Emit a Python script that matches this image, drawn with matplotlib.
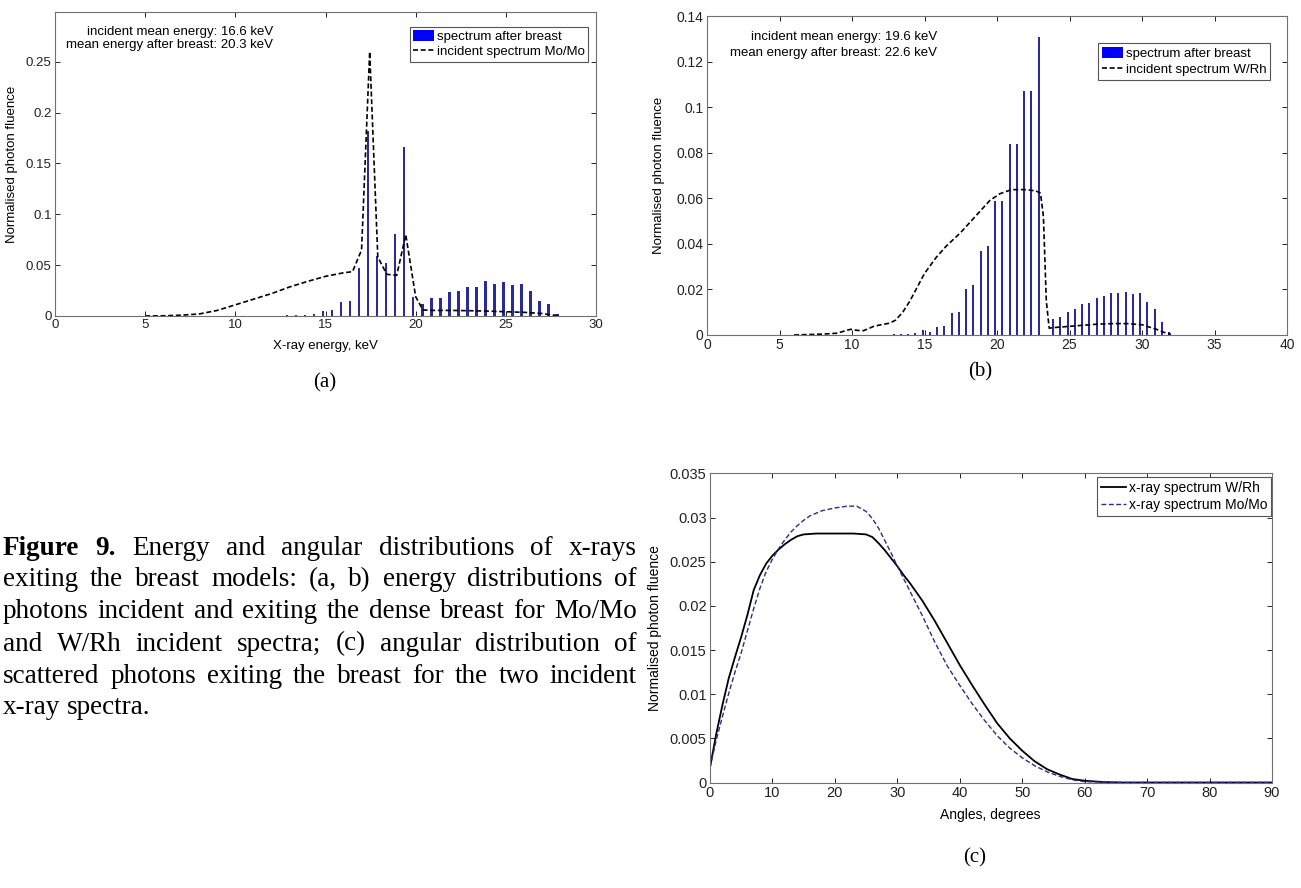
import matplotlib
matplotlib.use("Agg")
import matplotlib.pyplot as plt
from matplotlib.patches import Patch
from matplotlib.lines import Line2D

plt.rcParams['font.family'] = ['Liberation Sans', 'DejaVu Sans']
SERIF = ['Liberation Serif', 'DejaVu Serif']

# (a) Mo/Mo spectrum
a_bar_e = [12.37, 12.87, 13.37, 13.87, 14.37, 14.87, 15.37, 15.87, 16.37, 16.87,
           17.37, 17.87, 18.37, 18.87, 19.37, 19.87, 20.37, 20.87, 21.37, 21.87,
           22.37, 22.87, 23.37, 23.87, 24.37, 24.87, 25.37, 25.87, 26.37, 26.87,
           27.37, 27.87]
a_bar_v = [0.0003, 0.0005, 0.0008, 0.0012, 0.002, 0.0049, 0.0056, 0.0141, 0.0148, 0.047,
           0.182, 0.059, 0.052, 0.081, 0.1667, 0.019, 0.0118, 0.0174, 0.018, 0.0233,
           0.0246, 0.0289, 0.0289, 0.0348, 0.0315, 0.0335, 0.0305, 0.031, 0.025, 0.015,
           0.0118, 0.0015]
a_inc_e = [5, 6, 7, 8, 9, 10, 11, 12, 13, 14, 15, 16, 16.5, 17, 17.45, 17.9, 18.4,
           18.95, 19.45, 20.0, 20.4, 21, 22, 23, 24, 25, 26, 27, 27.5, 28]
a_inc_v = [0, 0.0002, 0.0008, 0.002, 0.0055, 0.011, 0.0165, 0.022, 0.0285, 0.034,
           0.039, 0.0425, 0.0436, 0.065, 0.26, 0.058, 0.041, 0.040, 0.080, 0.019,
           0.006, 0.0055, 0.0055, 0.0052, 0.0048, 0.0042, 0.0036, 0.0025, 0.001, 0.0005]

# (b) W/Rh spectrum
b_bar_e = [12.87, 13.37, 13.87, 14.37, 14.87, 15.37, 15.87, 16.37, 16.87, 17.37,
           17.87, 18.37, 18.87, 19.37, 19.87, 20.37, 20.87, 21.37, 21.87, 22.37,
           22.87, 23.87, 24.37, 24.87, 25.37, 25.87, 26.37, 26.87, 27.37, 27.87,
           28.37, 28.87, 29.37, 29.87, 30.37, 30.87, 31.37, 31.87]
b_bar_v = [0.0003, 0.0004, 0.0006, 0.001, 0.002, 0.0015, 0.0037, 0.004, 0.0095, 0.0102,
           0.020, 0.022, 0.0369, 0.039, 0.059, 0.059, 0.0838, 0.0838, 0.107, 0.107,
           0.1306, 0.007, 0.008, 0.0102, 0.0113, 0.0135, 0.0139, 0.0164, 0.0171, 0.0186,
           0.0186, 0.0189, 0.018, 0.0186, 0.0146, 0.0114, 0.0058, 0.0015]
b_inc_e = [6, 7, 8, 9, 9.5, 9.9, 10.4, 10.8, 11.5, 12.0, 12.6, 13.0, 13.5, 14.0, 14.5,
           15.0, 15.8, 16.5, 17.5, 18.5, 19.5, 20.2, 21.0, 22.0, 22.7, 23.0, 23.2, 23.4,
           23.6, 24, 25, 26, 27, 28, 29, 30, 31, 31.5, 32]
b_inc_v = [0, 0.0002, 0.0004, 0.0008, 0.0018, 0.0025, 0.002, 0.0019, 0.0038, 0.0045,
           0.0052, 0.0065, 0.010, 0.015, 0.021, 0.027, 0.034, 0.039, 0.045, 0.052,
           0.059, 0.062, 0.0638, 0.0638, 0.0632, 0.0622, 0.052, 0.015, 0.003, 0.0033,
           0.0038, 0.0043, 0.0048, 0.005, 0.005, 0.0045, 0.0025, 0.0012, 0.0003]

# (c) angular distributions
c_ang_wrh = [0, 1, 2, 3, 4, 5, 6, 7, 8, 9, 10, 11, 12, 13, 14, 15, 17, 20, 23, 25,
             26, 27, 28, 29, 30, 31, 32, 34, 36, 38, 40, 42, 44, 46, 48, 50, 52, 54,
             56, 58, 60, 63, 66, 90]
c_wrh = [0.0017, 0.0055, 0.0088, 0.0118, 0.0142, 0.0165, 0.0190, 0.0218, 0.0235, 0.0248,
         0.0257, 0.0264, 0.0270, 0.0275, 0.0279, 0.0281, 0.0282, 0.0282, 0.0282, 0.0281,
         0.0278, 0.0271, 0.0263, 0.0254, 0.0245, 0.0235, 0.0226, 0.0206, 0.0183, 0.0158,
         0.0133, 0.0110, 0.0088, 0.0067, 0.0050, 0.0036, 0.0024, 0.0015, 0.0009, 0.0004,
         0.0002, 0.00005, 0, 0]
c_ang_momo = [0, 1, 2, 3, 4, 5, 6, 7, 8, 9, 10, 11, 12, 13, 14, 15, 16, 18, 20, 22,
              23.5, 25, 26, 27, 28, 29, 30, 31, 32, 34, 36, 38, 40, 42, 44, 46, 48, 50,
              52, 54, 56, 58, 60, 63, 66, 90]
c_momo = [0.0017, 0.0048, 0.0075, 0.0101, 0.0125, 0.0147, 0.0172, 0.0197, 0.0220, 0.0239,
          0.0253, 0.0265, 0.0275, 0.0284, 0.0291, 0.0297, 0.0302, 0.0308, 0.0311, 0.0313,
          0.0313, 0.0307, 0.0299, 0.0288, 0.0274, 0.0260, 0.0245, 0.0231, 0.0217, 0.0189,
          0.0159, 0.0132, 0.0110, 0.0089, 0.0070, 0.0053, 0.0039, 0.0028, 0.0019, 0.0012,
          0.0007, 0.0003, 0.0001, 0.00003, 0, 0]

W, H = 1301, 888
fig = plt.figure(figsize=(W / 100, H / 100), dpi=100)

def style(ax, fs):
    ax.tick_params(direction='in', length=3.5, width=0.7, top=True, right=True,
                   labelsize=fs, colors='#222222', pad=2.5)
    for s in ax.spines.values():
        s.set_color('#707070')
        s.set_linewidth(0.8)

def box(l, t, r, b):
    return [l / W, 1 - b / H, (r - l) / W, (b - t) / H]

# ---- (a)
ax1 = fig.add_axes(box(55, 12, 596, 316))
ax1.bar(a_bar_e, a_bar_v, width=0.13, color='#2a2a9a', linewidth=0)
ax1.plot(a_inc_e, a_inc_v, color='black', ls=(0, (3, 1.6)), lw=1.2)
ax1.set_xlim(0, 30)
ax1.set_ylim(0, 0.299)
ax1.set_xticks(range(0, 31, 5))
ax1.set_yticks([0, 0.05, 0.1, 0.15, 0.2, 0.25])
ax1.set_yticklabels(['0', '0.05', '0.1', '0.15', '0.2', '0.25'])
style(ax1, 9.5)
ax1.set_ylabel('Normalised photon fluence', fontsize=9.5)
ax1.yaxis.set_label_coords(-0.068, 0.5)
ax1.set_xlabel('X-ray energy, keV', fontsize=9.5)
ax1.xaxis.set_label_coords(0.499, -0.079)
ax1.text(0.403, 0.934, 'incident mean energy: 16.6 keV', transform=ax1.transAxes,
         ha='right', va='center', fontsize=9.5)
ax1.text(0.403, 0.891, 'mean energy after breast: 20.3 keV', transform=ax1.transAxes,
         ha='right', va='center', fontsize=9.5)
h1 = [Patch(facecolor='#0000ff', edgecolor='none'),
      Line2D([], [], color='black', ls=(0, (3, 1.6)), lw=1.2)]
lg = ax1.legend(h1, ['spectrum after breast', 'incident spectrum Mo/Mo'],
                loc='upper right', bbox_to_anchor=(0.985, 0.951), fontsize=9.5,
                fancybox=False, framealpha=1, edgecolor='#555555', borderpad=0.25,
                handlelength=1.6, handleheight=0.9, handletextpad=0.2,
                labelspacing=0.15, borderaxespad=0)
lg.get_frame().set_linewidth(0.8)

# ---- (b)
ax2 = fig.add_axes(box(707, 16, 1287, 335))
ax2.bar(b_bar_e, b_bar_v, width=0.13, color='#2a2a9a', linewidth=0)
ax2.plot(b_inc_e, b_inc_v, color='black', ls=(0, (3, 1.6)), lw=1.2)
ax2.set_xlim(0, 40)
ax2.set_ylim(0, 0.14)
ax2.set_xticks(range(0, 41, 5))
ax2.set_yticks([0, 0.02, 0.04, 0.06, 0.08, 0.1, 0.12, 0.14])
ax2.set_yticklabels(['0', '0.02', '0.04', '0.06', '0.08', '0.1', '0.12', '0.14'])
style(ax2, 10)
ax2.set_ylabel('Normalised photon fluence', fontsize=9.5)
ax2.yaxis.set_label_coords(-0.072, 0.5)
ax2.text(0.3966, 0.934, 'incident mean energy: 19.6 keV', transform=ax2.transAxes,
         ha='right', va='center', fontsize=9.5)
ax2.text(0.3966, 0.884, 'mean energy after breast: 22.6 keV', transform=ax2.transAxes,
         ha='right', va='center', fontsize=9.5)
h2 = [Patch(facecolor='#0000ff', edgecolor='none'),
      Line2D([], [], color='black', ls=(0, (3, 1.6)), lw=1.2)]
lg = ax2.legend(h2, ['spectrum after breast', 'incident spectrum W/Rh'],
                loc='upper right', bbox_to_anchor=(0.971, 0.915), fontsize=9.5,
                fancybox=False, framealpha=1, edgecolor='#555555', borderpad=0.3,
                handlelength=1.6, handleheight=0.9, handletextpad=0.2,
                labelspacing=0.2, borderaxespad=0)
lg.get_frame().set_linewidth(0.8)

# ---- (c)
ax3 = fig.add_axes(box(710, 473.5, 1272, 782.5))
ax3.plot(c_ang_wrh, c_wrh, color='black', lw=1.3, label='x-ray spectrum W/Rh')
ax3.plot(c_ang_momo, c_momo, color='#2b2b8c', lw=1.0, ls=(0, (3.5, 1.8)),
         label='x-ray spectrum Mo/Mo')
ax3.set_xlim(0, 90)
ax3.set_ylim(0, 0.035)
ax3.set_xticks(range(0, 91, 10))
ax3.set_yticks([0, 0.005, 0.01, 0.015, 0.02, 0.025, 0.03, 0.035])
ax3.set_yticklabels(['0', '0.005', '0.01', '0.015', '0.02', '0.025', '0.03', '0.035'])
style(ax3, 10.5)
ax3.set_ylabel('Normalised photon fluence', fontsize=10)
ax3.yaxis.set_label_coords(-0.086, 0.5)
ax3.set_xlabel('Angles, degrees', fontsize=10)
ax3.xaxis.set_label_coords(0.498, -0.083)
lg = ax3.legend(loc='upper right', bbox_to_anchor=(0.999, 0.99), fontsize=10,
                fancybox=False, framealpha=1, edgecolor='#555555', borderpad=0.3,
                handlelength=1.8, handletextpad=0.2, labelspacing=0.2,
                borderaxespad=0)
lg.get_frame().set_linewidth(0.8)

# ---- sub captions
for lab, x, y in [('(a)', 325, 383), ('(b)', 980, 372), ('(c)', 975, 858)]:
    fig.text(x / W, 1 - y / H, lab, ha='center', va='center', fontsize=15, family=SERIF)

# ---- justified caption
cap_lines = [
    [('Figure', True), ('9.', True), ('Energy', False), ('and', False), ('angular', False),
     ('distributions', False), ('of', False), ('x-rays', False)],
    'exiting the breast models: (a, b) energy distributions of',
    'photons incident and exiting the dense breast for Mo/Mo',
    'and W/Rh incident spectra; (c) angular distribution of',
    'scattered photons exiting the breast for the two incident',
    'x-ray spectra.',
]
cap_fs = 19.5
cap_left, cap_right = 3, 637
cap_y0, cap_dy = 548, 32
r = fig.canvas.get_renderer()
for i, line in enumerate(cap_lines):
    words = line if isinstance(line, list) else [(w, False) for w in line.split()]
    y = 1 - (cap_y0 + i * cap_dy) / H
    texts = [fig.text(0, y, w, fontsize=cap_fs, family=SERIF,
                      weight='bold' if b else 'normal', va='center', ha='left')
             for w, b in words]
    widths = [t.get_window_extent(r).width for t in texts]
    if i < len(cap_lines) - 1:
        gap = (cap_right - cap_left - sum(widths)) / (len(texts) - 1)
    else:
        gap = cap_fs * 100 / 72 * 0.25
    x = cap_left
    for t, w in zip(texts, widths):
        t.set_x(x / W)
        x += w + gap

fig.savefig('out.png', dpi=100)
